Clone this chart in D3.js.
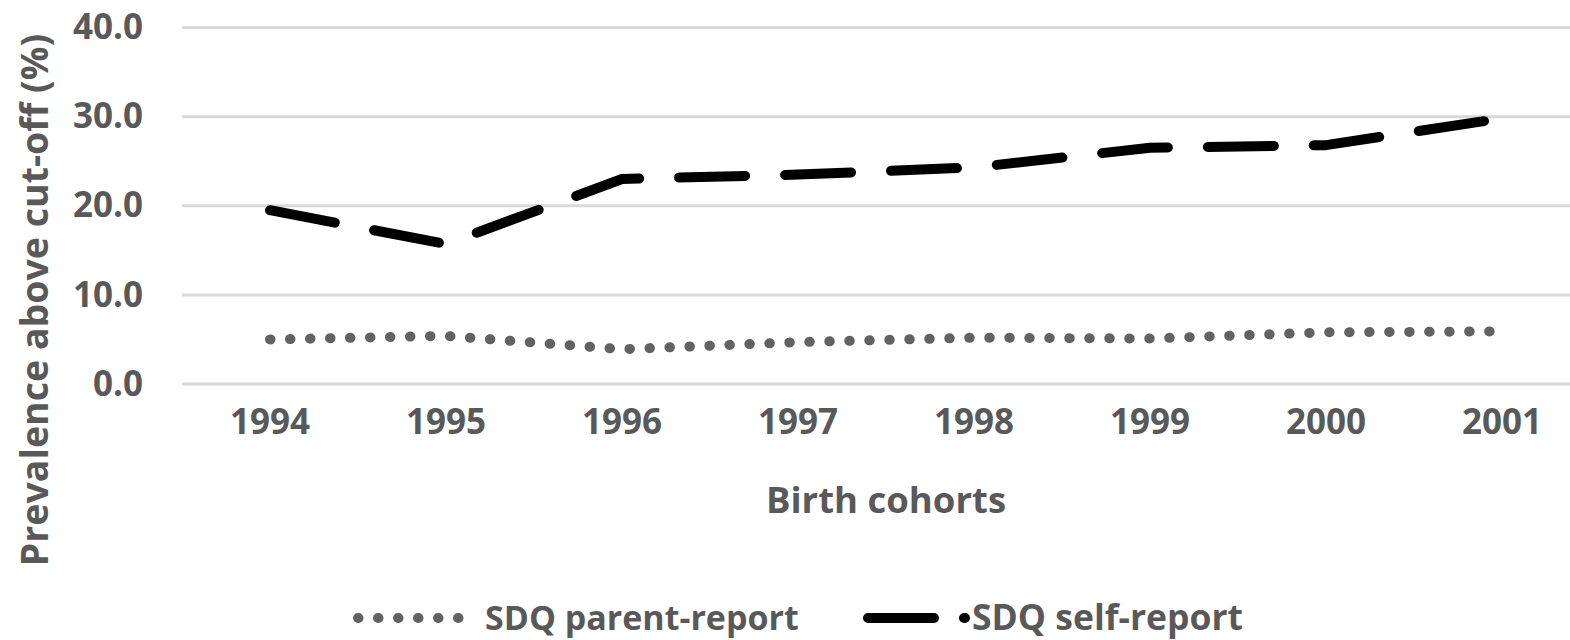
<!DOCTYPE html>
<html>
<head>
<meta charset="utf-8">
<script src="https://cdn.jsdelivr.net/npm/d3@7"></script>
<style>
  body { margin: 0; background: #fff; }
  svg { display: block; }
</style>
</head>
<body>
<svg width="1570" height="640"></svg>
<script>
var cohorts = ["1994", "1995", "1996", "1997", "1998", "1999", "2000", "2001"];
var parentReport = [5.0, 5.4, 3.9, 4.7, 5.2, 5.1, 5.8, 5.9];
var selfReport = [19.5, 15.7, 23.0, 23.5, 24.3, 26.5, 26.8, 29.8];
var yTicks = [0, 10, 20, 30, 40];

var svg = d3.select("svg");
var textColor = "#595959";
var font = "'Open Sans', sans-serif";

// plot area
var plotLeft = 182, plotRight = 1590, plotTop = 27.5, plotBottom = 384;

var x = d3.scaleBand().domain(cohorts).range([plotLeft, plotRight]).padding(0);
var y = d3.scaleLinear().domain([0, 40]).range([plotBottom, plotTop]);

// gridlines
svg.append("g")
  .selectAll("line")
  .data(yTicks)
  .enter()
  .append("line")
  .attr("x1", plotLeft)
  .attr("x2", plotRight)
  .attr("y1", function (d) { return y(d); })
  .attr("y2", function (d) { return y(d); })
  .style("stroke", "#d9d9d9")
  .style("stroke-width", 3);

// y axis labels
var yAxis = svg.append("g")
  .attr("transform", "translate(" + plotLeft + ",0)")
  .call(d3.axisLeft(y).tickValues(yTicks).tickFormat(d3.format(".1f")).tickSize(0).tickPadding(39));
yAxis.select(".domain").remove();
yAxis.selectAll("text")
  .style("font-family", font)
  .style("font-weight", "bold")
  .style("font-size", "35px")
  .style("fill", textColor);

// x axis labels
var xAxis = svg.append("g")
  .attr("transform", "translate(0," + plotBottom + ")")
  .call(d3.axisBottom(x).tickSize(0).tickPadding(25));
xAxis.select(".domain").remove();
xAxis.selectAll("text")
  .style("font-family", font)
  .style("font-weight", "bold")
  .style("font-size", "35px")
  .style("fill", textColor);

// axis titles
svg.append("text")
  .attr("x", (plotLeft + plotRight) / 2)
  .attr("y", 513)
  .attr("text-anchor", "middle")
  .style("font-family", font)
  .style("font-weight", "bold")
  .style("font-size", "36.5px")
  .style("fill", textColor)
  .text("Birth cohorts");

svg.append("text")
  .attr("text-anchor", "middle")
  .attr("transform", "translate(48,300)rotate(-90)")
  .style("font-family", font)
  .style("font-weight", "bold")
  .style("font-size", "37.5px")
  .style("fill", textColor)
  .text("Prevalence above cut-off (%)");

// lines
var line = d3.line()
  .x(function (d, i) { return x(cohorts[i]) + x.bandwidth() / 2; })
  .y(function (d) { return y(d); });

svg.append("path")
  .datum(parentReport)
  .attr("d", line)
  .style("fill", "none")
  .style("stroke", "#626262")
  .style("stroke-width", 10)
  .style("stroke-linecap", "round")
  .style("stroke-dasharray", "0.5 19.5");

svg.append("path")
  .datum(selfReport)
  .attr("d", line)
  .style("fill", "none")
  .style("stroke", "#000")
  .style("stroke-width", 10)
  .style("stroke-linecap", "round")
  .style("stroke-linejoin", "round")
  .style("stroke-dasharray", "66 40");

// legend
var ly = 618;
svg.append("line")
  .attr("x1", 358).attr("x2", 460)
  .attr("y1", ly).attr("y2", ly)
  .style("stroke", "#626262")
  .style("stroke-width", 10)
  .style("stroke-linecap", "round")
  .style("stroke-dasharray", "0.5 19.5");

svg.append("text")
  .attr("x", 485)
  .attr("y", ly)
  .attr("dy", "0.35em")
  .style("font-family", font)
  .style("font-weight", "bold")
  .style("font-size", "34px")
  .style("fill", textColor)
  .text("SDQ parent-report");

svg.append("line")
  .attr("x1", 868).attr("x2", 965)
  .attr("y1", ly).attr("y2", ly)
  .style("stroke", "#000")
  .style("stroke-width", 10)
  .style("stroke-linecap", "round")
  .style("stroke-dasharray", "66 30");

svg.append("text")
  .attr("x", 972)
  .attr("y", ly)
  .attr("dy", "0.35em")
  .style("font-family", font)
  .style("font-weight", "bold")
  .style("font-size", "35.5px")
  .style("fill", textColor)
  .text("SDQ self-report");
</script>
</body>
</html>
